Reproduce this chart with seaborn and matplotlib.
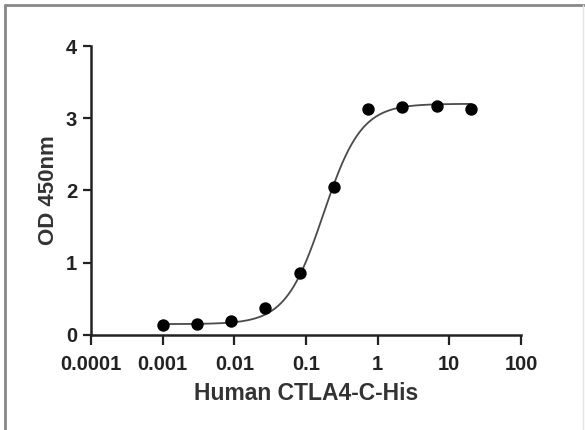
import numpy as np
import pandas as pd
import matplotlib
matplotlib.use('Agg')
import matplotlib.pyplot as plt
import seaborn as sns
from matplotlib.lines import Line2D

# measured points (3-fold dilution series)
conc = [0.001, 0.003, 0.009, 0.027, 0.082, 0.247, 0.74, 2.22, 6.67, 20.0]
od450 = [0.14, 0.15, 0.19, 0.37, 0.86, 2.05, 3.13, 3.16, 3.17, 3.13]

# 4PL fit parameters
fit_bottom = 0.15
fit_top = 3.20
fit_ec50 = 0.175
fit_hill = 1.65

xticks = [0.0001, 0.001, 0.01, 0.1, 1, 10, 100]
xtick_labels = ['0.0001', '0.001', '0.01', '0.1', '1', '10', '100']
yticks = [0, 1, 2, 3, 4]

df = pd.DataFrame({'conc': conc, 'od': od450})
xfit = np.logspace(np.log10(min(conc)), np.log10(max(conc)), 300)
yfit = fit_bottom + (fit_top - fit_bottom) / (1 + (fit_ec50 / xfit) ** fit_hill)
fit_df = pd.DataFrame({'conc': xfit, 'od': yfit})

sns.set_style('ticks')
plt.rcParams['font.family'] = ['Liberation Sans', 'DejaVu Sans']

fig = plt.figure(figsize=(5.85, 4.3), dpi=100)
ax = fig.add_axes([0.1556, 0.221, 0.735, 0.672])

sns.lineplot(data=fit_df, x='conc', y='od', ax=ax, color='#4a4a4a', linewidth=1.3)
sns.scatterplot(data=df, x='conc', y='od', ax=ax, color='black', s=80,
                edgecolor='black', linewidth=0, zorder=3)

ax.set_xscale('log')
ax.set_xlim(0.0001, 100)
ax.set_ylim(0, 4)
ax.set_xticks(xticks)
ax.set_xticklabels(xtick_labels)
ax.minorticks_off()
ax.set_yticks(yticks)

for side in ['top', 'right']:
    ax.spines[side].set_visible(False)
for side in ['left', 'bottom']:
    ax.spines[side].set_linewidth(1.8)
    ax.spines[side].set_color('#222222')
ax.tick_params(axis='x', length=7.5, width=1.6, colors='#222222', labelsize=14.5, pad=7)
ax.tick_params(axis='y', length=6, width=1.6, colors='#222222', labelsize=14.5, pad=4)
for lab in ax.get_xticklabels() + ax.get_yticklabels():
    lab.set_fontweight('bold')

ax.set_xlabel('Human CTLA4-C-His', fontsize=16.5, fontweight='bold', color='#333333', labelpad=6)
ax.set_ylabel('OD 450nm', fontsize=16, fontweight='bold', color='#333333', labelpad=5)

# thin grey frame on the picture edges
fig.add_artist(Line2D([0.009, 1.0], [0.988, 0.988], transform=fig.transFigure,
                      color='#888888', linewidth=2))
fig.add_artist(Line2D([0.009, 0.009], [0.0, 0.988], transform=fig.transFigure,
                      color='#888888', linewidth=2))
fig.add_artist(Line2D([0.997, 0.997], [0.0, 0.988], transform=fig.transFigure,
                      color='#e4e4e4', linewidth=1))

fig.savefig('out.png', dpi=100)
